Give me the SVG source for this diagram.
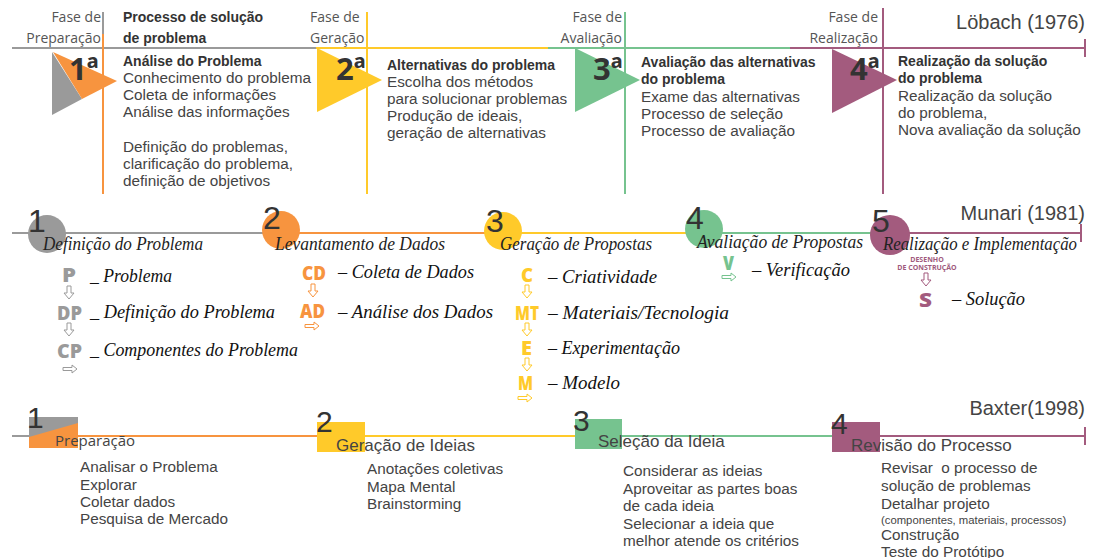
<svg xmlns="http://www.w3.org/2000/svg" width="1102" height="558" viewBox="0 0 1102 558">
<style>
.fase{font-family:"Open Sans",sans-serif;font-size:14px;fill:#555}
.hd{font-family:"Liberation Sans",Arial,sans-serif;font-size:14px;font-weight:bold;fill:#333}
.bd{font-family:"Liberation Sans",Arial,sans-serif;font-size:15.3px;fill:#444}
.sm{font-family:"Liberation Sans",Arial,sans-serif;font-size:11.3px;fill:#444}
.num{font-family:"Open Sans",sans-serif;font-size:31px;font-weight:bold;fill:#333}
.big{font-family:"Liberation Sans",Arial,sans-serif;font-size:32px;fill:#333}
.bx{font-family:"Liberation Sans",Arial,sans-serif;font-size:30px;fill:#333}
.auth{font-family:"Liberation Sans",Arial,sans-serif;font-size:20px;fill:#444}
.scr{font-family:"Liberation Serif",serif;font-style:italic;font-size:19px;fill:#222}
.it{font-family:"Liberation Serif",serif;font-style:italic;font-size:19px;fill:#111}
.mk{font-family:"Open Sans",sans-serif;font-weight:800;font-size:19px}
.tiny{font-family:"Open Sans",sans-serif;font-weight:bold;font-size:7px;fill:#a05a7d}
.lbl{font-family:"Liberation Sans",Arial,sans-serif;font-size:17px;fill:#444}
.lblo{font-family:"Open Sans",sans-serif;font-size:15px;fill:#444}
.ln{fill:none;stroke-width:2}
.g{stroke:#9a9a9a}.o{stroke:#f7943f}.y{stroke:#ffca2a}.gr{stroke:#76c38f}.p{stroke:#a35b7e}
.ar{fill:#fff;stroke-width:1}
</style>
<defs>
<path id="dn" d="M-2,0 L2,0 L2,7 L5,7 L0,13 L-5,7 L-2,7 Z"/>
<path id="rt" d="M0,-1.5 L9,-1.5 L9,-4 L14,0 L9,4 L9,1.5 L0,1.5 Z"/>
</defs>

<g id="connectors">
<line class="ln g" x1="12" y1="48" x2="316" y2="48"/>
<line class="ln y" x1="316" y1="48" x2="548" y2="48"/>
<line class="ln gr" x1="548" y1="48" x2="790" y2="48"/>
<line class="ln p" x1="790" y1="48" x2="1085" y2="48"/>
<line class="ln p" x1="1085" y1="39" x2="1085" y2="57"/>
<line class="ln g" x1="103" y1="12" x2="103" y2="34"/>
<line class="ln o" x1="103" y1="34" x2="103" y2="194"/>
<line class="ln y" x1="367" y1="12" x2="367" y2="194"/>
<line class="ln gr" x1="625" y1="12" x2="625" y2="194"/>
<line class="ln p" x1="883" y1="8" x2="883" y2="194"/>

<line class="ln g" x1="12" y1="233" x2="281" y2="233"/>
<line class="ln o" x1="281" y1="233" x2="503" y2="233"/>
<line class="ln y" x1="503" y1="233" x2="704" y2="233"/>
<line class="ln gr" x1="704" y1="233" x2="890" y2="233"/>
<line class="ln p" x1="890" y1="233" x2="1081" y2="233"/>
<line class="ln p" x1="1081" y1="224" x2="1081" y2="242"/>

<line class="ln g" x1="12" y1="436" x2="53" y2="436"/>
<line class="ln o" x1="53" y1="436" x2="341" y2="436"/>
<line class="ln y" x1="341" y1="436" x2="598" y2="436"/>
<line class="ln gr" x1="598" y1="436" x2="856" y2="436"/>
<line class="ln p" x1="856" y1="436" x2="1085" y2="436"/>
<line class="ln p" x1="1085" y1="427" x2="1085" y2="445"/>
</g>

<g id="lobach-title"><text class="auth" x="1085" y="29" text-anchor="end">Löbach (1976)</text></g>

<g id="lobach-1">
<text class="fase" x="101" y="22" text-anchor="end">Fase de</text>
<text class="fase" x="101" y="43" text-anchor="end">Preparação</text>
<text class="hd" x="123" y="22">Processo de solução</text>
<text class="hd" x="123" y="43">de problema</text>
<polygon points="52,52 52,115 82,99" fill="#9a9a9a"/>
<polygon points="53,52 117,81 82,99" fill="#f7943f"/>
<text class="num" x="69" y="80">1ª</text>
<text class="hd" x="123" y="66">Análise do Problema</text>
<text class="bd" x="123" y="83">Conhecimento do problema</text>
<text class="bd" x="123" y="100">Coleta de informações</text>
<text class="bd" x="123" y="117">Análise das informações</text>
<text class="bd" x="123" y="152">Definição do problemas,</text>
<text class="bd" x="123" y="169">clarificação do problema,</text>
<text class="bd" x="123" y="186">definição de objetivos</text>
</g>

<g id="lobach-2">
<text class="fase" x="310" y="22">Fase de</text>
<text class="fase" x="310" y="43">Geração</text>
<polygon points="317,48 317,112 382,80" fill="#ffca2a"/>
<text class="num" x="336" y="80">2ª</text>
<text class="hd" x="387" y="70">Alternativas do problema</text>
<text class="bd" x="387" y="87">Escolha dos métodos</text>
<text class="bd" x="387" y="104">para solucionar problemas</text>
<text class="bd" x="387" y="121">Produção de ideais,</text>
<text class="bd" x="387" y="138">geração de alternativas</text>
</g>

<g id="lobach-3">
<text class="fase" x="622" y="22" text-anchor="end">Fase de</text>
<text class="fase" x="622" y="43" text-anchor="end">Avaliação</text>
<polygon points="575,48 575,112 640,80" fill="#76c38f"/>
<text class="num" x="593" y="80">3ª</text>
<text class="hd" x="641" y="67">Avaliação das alternativas</text>
<text class="hd" x="641" y="84">do problema</text>
<text class="bd" x="641" y="102">Exame das alternativas</text>
<text class="bd" x="641" y="119">Processo de seleção</text>
<text class="bd" x="641" y="136">Processo de avaliação</text>
</g>

<g id="lobach-4">
<text class="fase" x="878" y="22" text-anchor="end">Fase de</text>
<text class="fase" x="878" y="43" text-anchor="end">Realização</text>
<polygon points="832,49 832,113 897,80" fill="#a35b7e"/>
<text class="num" x="850" y="80">4ª</text>
<text class="hd" x="898" y="66">Realização da solução</text>
<text class="hd" x="898" y="83">do problema</text>
<text class="bd" x="898" y="101">Realização da solução</text>
<text class="bd" x="898" y="118">do problema,</text>
<text class="bd" x="898" y="135">Nova avaliação da solução</text>
</g>

<g id="munari-title"><text class="auth" x="1085" y="220" text-anchor="end">Munari (1981)</text></g>

<g id="munari-1">
<circle cx="47" cy="234" r="19" fill="#9a9a9a"/>
<text class="big" x="28" y="232">1</text>
<text class="scr" x="43" y="250" textLength="160" lengthAdjust="spacingAndGlyphs">Definição do Problema</text>
<text class="mk" x="62" y="282" fill="#9a9a9a" textLength="14" lengthAdjust="spacingAndGlyphs">P</text>
<use href="#dn" x="69" y="286" class="ar" stroke="#9a9a9a"/>
<text class="mk" x="57" y="320" fill="#9a9a9a" textLength="25" lengthAdjust="spacingAndGlyphs">DP</text>
<use href="#dn" x="69" y="323" class="ar" stroke="#9a9a9a"/>
<text class="mk" x="57" y="358" fill="#9a9a9a" textLength="25" lengthAdjust="spacingAndGlyphs">CP</text>
<use href="#rt" x="63" y="369" class="ar" stroke="#9a9a9a"/>
<text class="it" x="90" y="282" textLength="82" lengthAdjust="spacingAndGlyphs">_ Problema</text>
<text class="it" x="90" y="318" textLength="185" lengthAdjust="spacingAndGlyphs">_ Definição do Problema</text>
<text class="it" x="90" y="356" textLength="208" lengthAdjust="spacingAndGlyphs">_ Componentes do Problema</text>
</g>

<g id="munari-2">
<circle cx="281" cy="230" r="19" fill="#f7943f"/>
<text class="big" x="263" y="229">2</text>
<text class="scr" x="275" y="250" textLength="170" lengthAdjust="spacingAndGlyphs">Levantamento de Dados</text>
<text class="mk" x="302" y="280" fill="#f7943f" textLength="24" lengthAdjust="spacingAndGlyphs">CD</text>
<use href="#dn" x="313" y="284" class="ar" stroke="#f7943f"/>
<text class="mk" x="300" y="318" fill="#f7943f" textLength="25" lengthAdjust="spacingAndGlyphs">AD</text>
<use href="#rt" x="305" y="326" class="ar" stroke="#f7943f"/>
<text class="it" x="338" y="278" textLength="136" lengthAdjust="spacingAndGlyphs">– Coleta de Dados</text>
<text class="it" x="338" y="318" textLength="155" lengthAdjust="spacingAndGlyphs">– Análise dos Dados</text>
</g>

<g id="munari-3">
<circle cx="503" cy="231" r="19" fill="#ffca2a"/>
<text class="big" x="486" y="232">3</text>
<text class="scr" x="500" y="250" textLength="152" lengthAdjust="spacingAndGlyphs">Geração de Propostas</text>
<text class="mk" x="521" y="282" fill="#ffca2a" textLength="12" lengthAdjust="spacingAndGlyphs">C</text>
<use href="#dn" x="527" y="285" class="ar" stroke="#ffca2a"/>
<text class="mk" x="515" y="320" fill="#ffca2a" textLength="24" lengthAdjust="spacingAndGlyphs">MT</text>
<use href="#dn" x="527" y="323" class="ar" stroke="#ffca2a"/>
<text class="mk" x="521" y="355" fill="#ffca2a" textLength="11" lengthAdjust="spacingAndGlyphs">E</text>
<use href="#dn" x="527" y="358" class="ar" stroke="#ffca2a"/>
<text class="mk" x="518" y="390" fill="#ffca2a" textLength="15" lengthAdjust="spacingAndGlyphs">M</text>
<use href="#rt" x="518" y="398" class="ar" stroke="#ffca2a"/>
<text class="it" x="548" y="283" textLength="109" lengthAdjust="spacingAndGlyphs">– Criatividade</text>
<text class="it" x="548" y="319" textLength="181" lengthAdjust="spacingAndGlyphs">– Materiais/Tecnologia</text>
<text class="it" x="548" y="354" textLength="132" lengthAdjust="spacingAndGlyphs">– Experimentação</text>
<text class="it" x="548" y="389" textLength="72" lengthAdjust="spacingAndGlyphs">– Modelo</text>
</g>

<g id="munari-4">
<circle cx="704" cy="229" r="19" fill="#76c38f"/>
<text class="big" x="686" y="229">4</text>
<text class="scr" x="697" y="248" textLength="166" lengthAdjust="spacingAndGlyphs">Avaliação de Propostas</text>
<text class="mk" x="723" y="270" fill="#76c38f" textLength="11" lengthAdjust="spacingAndGlyphs">V</text>
<use href="#rt" x="722" y="277" class="ar" stroke="#76c38f"/>
<text class="it" x="752" y="276" textLength="98" lengthAdjust="spacingAndGlyphs">– Verificação</text>
</g>

<g id="munari-5">
<circle cx="890" cy="235" r="20" fill="#a35b7e"/>
<text class="big" x="872" y="232">5</text>
<text class="scr" x="883" y="250" textLength="194" lengthAdjust="spacingAndGlyphs">Realização e Implementação</text>
<text class="tiny" x="927" y="262" text-anchor="middle">DESENHO</text>
<text class="tiny" x="927" y="270" text-anchor="middle">DE CONSTRUÇÃO</text>
<use href="#dn" x="926" y="273" class="ar" stroke="#a35b7e"/>
<text class="mk" x="919" y="307" fill="#a35b7e" textLength="13" lengthAdjust="spacingAndGlyphs">S</text>
<text class="it" x="952" y="305" textLength="73" lengthAdjust="spacingAndGlyphs">– Solução</text>
</g>

<g id="baxter-title"><text class="auth" x="1085" y="415" text-anchor="end">Baxter(1998)</text></g>

<g id="baxter-1">
<rect x="29" y="417" width="49" height="31" fill="#f7943f"/>
<polygon points="29,417 78,417 78,423 29,437" fill="#9a9a9a"/>
<text class="bx" x="27" y="428">1</text>
<text class="lblo" x="55" y="446">Preparação</text>
<text class="bd" x="80" y="472">Analisar o Problema</text>
<text class="bd" x="80" y="490">Explorar</text>
<text class="bd" x="80" y="507">Coletar dados</text>
<text class="bd" x="80" y="524">Pesquisa de Mercado</text>
</g>

<g id="baxter-2">
<rect x="317" y="422" width="48" height="30" fill="#ffca2a"/>
<text class="bx" x="316" y="432">2</text>
<text class="lbl" x="336" y="451">Geração de Ideias</text>
<text class="bd" x="367" y="474">Anotações coletivas</text>
<text class="bd" x="367" y="492">Mapa Mental</text>
<text class="bd" x="367" y="509">Brainstorming</text>
</g>

<g id="baxter-3">
<rect x="575" y="419" width="47" height="30" fill="#76c38f"/>
<text class="bx" x="573" y="431">3</text>
<text class="lbl" x="598" y="447">Seleção da Ideia</text>
<text class="bd" x="623" y="476">Considerar as ideias</text>
<text class="bd" x="623" y="494">Aproveitar as partes boas</text>
<text class="bd" x="623" y="511">de cada ideia</text>
<text class="bd" x="623" y="529">Selecionar a ideia que</text>
<text class="bd" x="623" y="546">melhor atende os critérios</text>
</g>

<g id="baxter-4">
<rect x="832" y="422" width="48" height="30" fill="#a35b7e"/>
<text class="bx" x="831" y="434">4</text>
<text class="lbl" x="851" y="451">Revisão do Processo</text>
<text class="bd" x="881" y="473" xml:space="preserve">Revisar  o processo de</text>
<text class="bd" x="881" y="491">solução de problemas</text>
<text class="bd" x="881" y="509">Detalhar projeto</text>
<text class="sm" x="881" y="524">(componentes, materiais, processos)</text>
<text class="bd" x="881" y="540">Construção</text>
<text class="bd" x="881" y="557">Teste do Protótipo</text>
</g>
</svg>
